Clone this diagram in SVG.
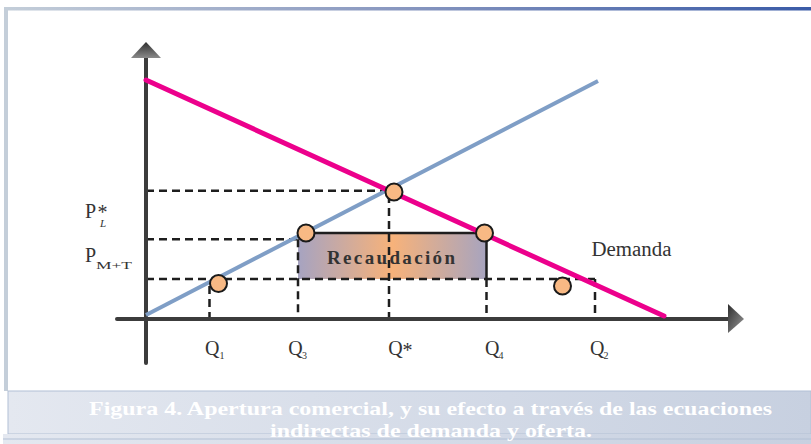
<svg xmlns="http://www.w3.org/2000/svg" width="811" height="444" viewBox="0 0 811 444">
  <defs>
    <linearGradient id="topBar" x1="0" y1="0" x2="1" y2="0">
      <stop offset="0" stop-color="#c4ced9"/>
      <stop offset="0.5" stop-color="#8796bf"/>
      <stop offset="1" stop-color="#3a5ba7"/>
    </linearGradient>
    <linearGradient id="band" x1="0" y1="0" x2="1" y2="0">
      <stop offset="0" stop-color="#e4e8f0"/>
      <stop offset="1" stop-color="#c7d0e0"/>
    </linearGradient>
    <linearGradient id="recaud" x1="0" y1="0" x2="1" y2="0">
      <stop offset="0" stop-color="#a6a3c1"/>
      <stop offset="0.5" stop-color="#f7b27a"/>
      <stop offset="1" stop-color="#a7a4bf"/>
    </linearGradient>
    <linearGradient id="arrowH" x1="0" y1="0" x2="1" y2="1">
      <stop offset="0" stop-color="#2e2e2e"/>
      <stop offset="1" stop-color="#9a9a9a"/>
    </linearGradient>
    <linearGradient id="arrowV" x1="0.5" y1="0" x2="0.5" y2="1">
      <stop offset="0" stop-color="#2e2e2e"/>
      <stop offset="1" stop-color="#8a8a8a"/>
    </linearGradient>
  </defs>
  <style>
    .dash { stroke: #1e1e1e; stroke-width: 2.5; stroke-dasharray: 8 5; fill: none; }
    .solid { stroke: #1e1e1e; stroke-width: 2.5; fill: none; }
    .axis { stroke: #3c3c3c; stroke-width: 4; fill: none; stroke-linecap: round; }
    .pt { fill: #f8b984; stroke: #1a1a1a; stroke-width: 2; }
    .lbl { font-family: "Liberation Serif", "DejaVu Serif", serif; fill: #333333; }
    .cap { font-family: "Liberation Serif", "DejaVu Serif", serif; font-weight: bold; font-size: 19px; fill: #ffffff; }
  </style>

  <rect width="811" height="444" fill="#ffffff"/>

  <!-- frame -->
  <g id="frame">
    <rect x="4" y="7" width="807" height="3.5" fill="url(#topBar)"/>
    <rect x="4" y="7" width="4" height="384" fill="#c4ced9"/>
    <rect x="8" y="391" width="803" height="43" fill="url(#band)" stroke="#b2c0d5" stroke-width="1"/>
    <rect x="3" y="434" width="808" height="10" fill="url(#band)"/>
    <line x1="3" y1="439" x2="811" y2="439" stroke="#b2c0d5" stroke-width="1"/>
  </g>

  <!-- revenue area -->
  <g id="recaudacion">
    <rect x="298" y="233" width="188.5" height="46" fill="url(#recaud)"/>
  </g>

  <!-- connectors: dashed guides -->
  <g id="connectors">
    <line class="dash" x1="146" y1="190.7" x2="389" y2="190.7"/>
    <line class="dash" x1="146" y1="239.3" x2="298" y2="239.3"/>
    <line class="dash" x1="146" y1="279" x2="595" y2="279"/>
    <line class="dash" x1="209.5" y1="286" x2="209.5" y2="319"/>
    <line class="dash" x1="298" y1="239.3" x2="298" y2="319"/>
    <line class="dash" x1="389" y1="195" x2="389" y2="319"/>
    <line class="dash" x1="486.5" y1="279" x2="486.5" y2="319"/>
    <line class="dash" x1="595" y1="279" x2="595" y2="319"/>
    <line class="solid" x1="306" y1="233" x2="486.5" y2="233"/>
    <line class="solid" x1="486.5" y1="233" x2="486.5" y2="279"/>
  </g>

  <!-- axes -->
  <g id="axes">
    <line class="axis" x1="146" y1="363" x2="146" y2="57"/>
    <polygon points="146,42 131,58 161,58" fill="url(#arrowV)"/>
    <line class="axis" x1="117" y1="319" x2="730" y2="319"/>
    <polygon points="744,319 728,304 728,333" fill="url(#arrowH)"/>
  </g>

  <!-- curves -->
  <g id="oferta">
    <line x1="146" y1="315" x2="598" y2="81" stroke="#7f9ec6" stroke-width="4"/>
  </g>
  <g id="demanda">
    <line x1="146" y1="80" x2="664" y2="316" stroke="#ec008c" stroke-width="5" stroke-linecap="round"/>
  </g>

  <!-- points -->
  <g id="points">
    <circle id="p-qstar" class="pt" cx="394" cy="192" r="8.5"/>
    <circle id="p-q3" class="pt" cx="306" cy="233" r="8.5"/>
    <circle id="p-q4" class="pt" cx="484.5" cy="233" r="8.5"/>
    <circle id="p-q1" class="pt" cx="218.5" cy="283.5" r="8.5"/>
    <circle id="p-q2" class="pt" cx="562.5" cy="286" r="8.5"/>
  </g>

  <!-- labels -->
  <g id="labels">
    <text class="lbl" x="327" y="264" font-size="19" font-weight="bold" textLength="128" lengthAdjust="spacing">Recaudación</text>
    <text class="lbl" x="591.5" y="255.7" font-size="20" textLength="80" lengthAdjust="spacingAndGlyphs">Demanda</text>

    <text class="lbl" x="85" y="218" font-size="20">P<tspan x="97.5" y="218.5">*</tspan><tspan x="100" y="227" font-size="11" font-style="italic">L</tspan></text>

    <text class="lbl" x="85" y="261.5" font-size="20">P</text>
    <text class="lbl" x="96" y="269" font-size="9.5" textLength="36" lengthAdjust="spacingAndGlyphs">M+T</text>

    <text class="lbl" x="205" y="355" font-size="20">Q</text>
    <text class="lbl" x="219.5" y="359" font-size="10">1</text>

    <text class="lbl" x="288.3" y="355" font-size="20">Q</text>
    <text class="lbl" x="302" y="359" font-size="10">3</text>

    <text class="lbl" x="388.3" y="355" font-size="20">Q</text>
    <text class="lbl" x="402.5" y="357" font-size="20">*</text>

    <text class="lbl" x="485" y="355" font-size="20">Q</text>
    <text class="lbl" x="498.5" y="359" font-size="10">4</text>

    <text class="lbl" x="590" y="355" font-size="20">Q</text>
    <text class="lbl" x="603.5" y="359" font-size="10">2</text>
  </g>

  <!-- caption -->
  <g id="caption">
    <text class="cap" x="89" y="415" textLength="683" lengthAdjust="spacingAndGlyphs">Figura 4. Apertura comercial, y su efecto a través de las ecuaciones</text>
    <text class="cap" x="270" y="437" textLength="322" lengthAdjust="spacingAndGlyphs">indirectas de demanda y oferta.</text>
  </g>
</svg>
